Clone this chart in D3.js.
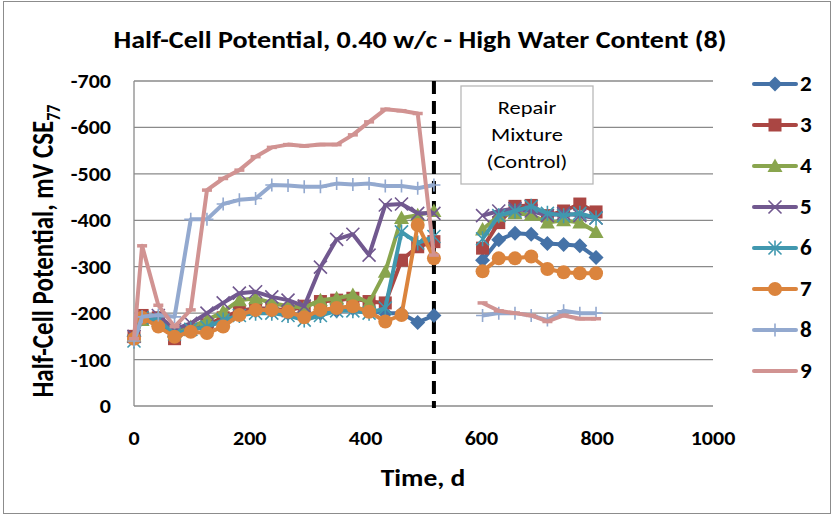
<!DOCTYPE html>
<html>
<head>
<meta charset="utf-8">
<script src="https://cdn.jsdelivr.net/npm/d3@7"></script>
<style>
  body { margin: 0; background: #fff; }
  svg { font-family: Carlito, Calibri, "Liberation Sans Narrow", "Open Sans", sans-serif; }
</style>
</head>
<body>
<div id="chart"></div>
<script>
// time points (days), before and after repair
const tLeft = [0, 14, 42, 70, 98, 126, 154, 182, 210, 238, 266, 294, 322, 350, 378, 406, 434, 462, 490, 518];
const tRight = [602, 630, 658, 686, 714, 742, 770, 798];
const repairDay = 518;

const names = ["2", "3", "4", "5", "6", "7", "8", "9"];

const s2L = [-150, -190, -190, -150, -165, -170, -185, -200, -205, -205, -200, -195, -200, -205, -210, -205, -200, -200, -180, -195];
const s2R = [-314, -358, -372, -370, -350, -348, -345, -320];
const s3L = [-150, -195, -190, -145, -165, -175, -190, -205, -210, -210, -205, -215, -225, -228, -232, -225, -222, -314, -343, -354];
const s3R = [-340, -395, -430, -432, -410, -420, -435, -418];
const s4L = [-150, -185, -190, -160, -170, -185, -203, -228, -232, -222, -215, -212, -228, -232, -239, -222, -289, -405, -411, -420];
const s4R = [-380, -410, -415, -412, -395, -400, -395, -375];
const s5L = [-150, -190, -195, -165, -178, -200, -222, -243, -246, -235, -228, -215, -299, -359, -370, -325, -433, -435, -415, -415];
const s5R = [-410, -420, -425, -420, -410, -415, -410, -405];
const s6L = [-140, -190, -185, -155, -165, -170, -185, -195, -200, -200, -195, -185, -195, -205, -205, -200, -211, -375, -351, -365];
const s6R = [-360, -410, -420, -430, -415, -410, -415, -405];
const s7L = [-145, -190, -171, -149, -160, -157, -171, -196, -207, -207, -203, -191, -207, -211, -215, -203, -182, -196, -390, -318];
const s7R = [-290, -318, -318, -322, -295, -288, -286, -286];
const s8L = [-140, -192, -196, -192, -402, -402, -435, -444, -447, -476, -475, -472, -472, -479, -477, -479, -474, -474, -469, -476];
const s8R = [-195, -200, -200, -195, -185, -205, -200, -200];
const s9L = [-145, -345, -217, -171, -207, -465, -490, -508, -537, -557, -563, -560, -563, -563, -584, -612, -639, -636, -630, -325];
const s9R = [-222, -205, -200, -195, -182, -195, -188, -188];

const xTicks = [0, 200, 400, 600, 800, 1000];
const yTicks = [0, -100, -200, -300, -400, -500, -600, -700];

const colors = ["#4572A7", "#AA4643", "#89A54E", "#71588F", "#4198AF", "#DB843D", "#93A9CF", "#D19392"];
const markers = ["diamond", "square", "triangle", "x", "star", "circle", "plus", "dash"];

const seriesL = [s2L, s3L, s4L, s5L, s6L, s7L, s8L, s9L];
const seriesR = [s2R, s3R, s4R, s5R, s6R, s7R, s8R, s9R];

const W = 834, H = 517;
const plot = {left: 134, right: 713, top: 81, bottom: 406};

const svg = d3.select("#chart").append("svg")
    .attr("width", W).attr("height", H);

// outer frame
svg.append("rect")
    .attr("x", 3.5).attr("y", 1.5)
    .attr("width", 827).attr("height", 512)
    .attr("fill", "none").attr("stroke", "#8c8c8c").attr("stroke-width", 1);

const x = d3.scaleLinear().domain([0, 1000]).range([plot.left, plot.right]);
const y = d3.scaleLinear().domain([0, -700]).range([plot.bottom, plot.top]);

// text in the original is a bit wider than normal, so stretch it
function label(g, tx, ty, txt, size, anchor, weight, sx) {
  return g.append("text")
      .attr("transform", `translate(${tx},${ty}) scale(${sx},1)`)
      .attr("text-anchor", anchor)
      .attr("font-size", size)
      .attr("font-weight", weight)
      .text(txt);
}

// gridlines
svg.append("g")
  .selectAll("line")
  .data(yTicks)
  .join("line")
    .attr("x1", plot.left).attr("x2", plot.right)
    .attr("y1", d => y(d)).attr("y2", d => y(d))
    .attr("stroke", "#8a8a8a").attr("stroke-width", 1.3);

// left axis line
svg.append("line")
    .attr("x1", plot.left).attr("x2", plot.left)
    .attr("y1", plot.top).attr("y2", plot.bottom)
    .attr("stroke", "#8a8a8a").attr("stroke-width", 1.3);

// tick labels
const yLab = svg.append("g");
yTicks.forEach(t => label(yLab, 111, y(t) + 7, t === 0 ? "0" : "-" + Math.abs(t), 20, "end", "bold", 1.1));
const xLab = svg.append("g");
xTicks.forEach(t => label(xLab, x(t), 445, String(t), 20, "middle", "bold", 1.1));

// titles
label(svg, 420, 48, "Half-Cell Potential, 0.40 w/c - High Water Content (8)", 24, "middle", "bold", 1.17);
label(svg, 423, 486, "Time, d", 25, "middle", "bold", 1.1);

const yTitle = svg.append("text")
    .attr("transform", "translate(53,251) scale(1.2,1) rotate(-90)")
    .attr("text-anchor", "middle")
    .attr("font-size", 25).attr("font-weight", "bold");
yTitle.append("tspan").text("Half-Cell Potential, mV CSE");
yTitle.append("tspan").attr("font-size", 16).attr("dy", 6).text("77");

// repair line
svg.append("line")
    .attr("x1", x(repairDay)).attr("x2", x(repairDay))
    .attr("y1", plot.top).attr("y2", plot.bottom + 2)
    .attr("stroke", "#000").attr("stroke-width", 4)
    .attr("stroke-dasharray", "13,7");

// annotation box
const box = svg.append("g");
box.append("rect")
    .attr("x", 461).attr("y", 86).attr("width", 132).attr("height", 98)
    .attr("fill", "#fff").attr("stroke", "#b8b8b8").attr("stroke-width", 1.3);
["Repair", "Mixture", "(Control)"].forEach((s, i) => {
  label(box, 527, 114 + i * 27, s, 19, "middle", "normal", 1.18);
});

// markers
function drawMarker(g, type, color, cx, cy) {
  const r = 6.5;
  if (type === "diamond") {
    g.append("path").attr("d", `M${cx},${cy - 7.5}L${cx + 7.5},${cy}L${cx},${cy + 7.5}L${cx - 7.5},${cy}Z`).attr("fill", color);
  } else if (type === "square") {
    g.append("rect").attr("x", cx - 6.5).attr("y", cy - 6.5).attr("width", 13).attr("height", 13).attr("fill", color);
  } else if (type === "triangle") {
    g.append("path").attr("d", `M${cx},${cy - 7.5}L${cx + 7.5},${cy + 6}L${cx - 7.5},${cy + 6}Z`).attr("fill", color);
  } else if (type === "x") {
    g.append("path").attr("d", `M${cx - r},${cy - r}L${cx + r},${cy + r}M${cx - r},${cy + r}L${cx + r},${cy - r}`)
      .attr("stroke", color).attr("stroke-width", 1.6);
  } else if (type === "star") {
    g.append("path").attr("d", `M${cx - r},${cy - r}L${cx + r},${cy + r}M${cx - r},${cy + r}L${cx + r},${cy - r}M${cx},${cy - r - 1}L${cx},${cy + r + 1}`)
      .attr("stroke", color).attr("stroke-width", 1.6);
  } else if (type === "circle") {
    g.append("circle").attr("cx", cx).attr("cy", cy).attr("r", 7).attr("fill", color);
  } else if (type === "plus") {
    g.append("path").attr("d", `M${cx - r},${cy}L${cx + r},${cy}M${cx},${cy - r}L${cx},${cy + r}`)
      .attr("stroke", color).attr("stroke-width", 1.6);
  } else if (type === "dash") {
    g.append("path").attr("d", `M${cx - 5},${cy}L${cx + 5},${cy}`)
      .attr("stroke", color).attr("stroke-width", 3.5);
  }
}

const line = d3.line().x(d => x(d[0])).y(d => y(d[1]));

names.forEach((name, i) => {
  const g = svg.append("g");
  const left = tLeft.map((t, j) => [t, seriesL[i][j]]);
  const right = tRight.map((t, j) => [t, seriesR[i][j]]);
  [left, right].forEach(pts => {
    g.append("path")
        .attr("d", line(pts))
        .attr("fill", "none")
        .attr("stroke", colors[i])
        .attr("stroke-width", 4)
        .attr("stroke-linejoin", "round");
    pts.forEach(p => drawMarker(g, markers[i], colors[i], x(p[0]), y(p[1])));
  });
});

// legend
const legend = svg.append("g");
names.forEach((name, i) => {
  const ly = 84 + i * 41;
  const lg = legend.append("g");
  lg.append("line")
      .attr("x1", 754).attr("x2", 796)
      .attr("y1", ly).attr("y2", ly)
      .attr("stroke", colors[i]).attr("stroke-width", 4)
      .attr("stroke-linecap", "round");
  drawMarker(lg, markers[i], colors[i], 775, ly);
  label(lg, 800, ly + 7, name, 22, "start", "bold", 1.05);
});
</script>
</body>
</html>
